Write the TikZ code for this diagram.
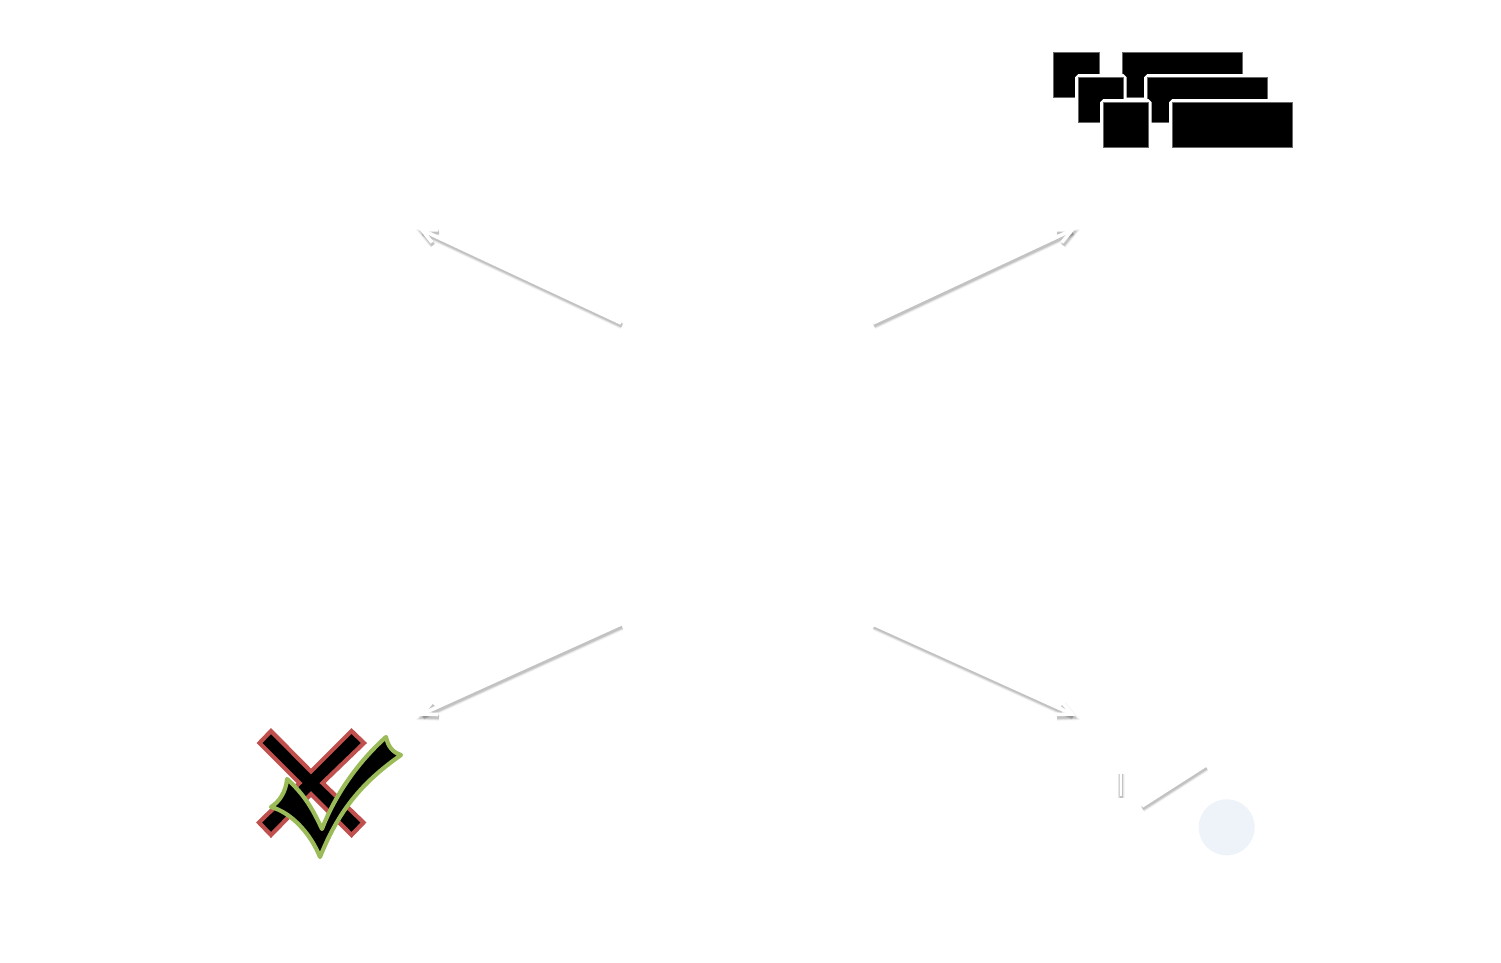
\documentclass[tikz,border=0pt]{standalone}
\usetikzlibrary{calc}
\definecolor{crossred}{HTML}{C0504D}
\definecolor{checkgreen}{HTML}{9BBB59}
\definecolor{paleblue}{HTML}{EEF3FA}
\definecolor{edgegray}{HTML}{666666}
\tikzset{
  block/.style={fill=black,draw=edgegray,line width=0.3pt},
  blockhalo/.style={draw=white,line width=6pt,rounded corners=1.5pt},
  softA/.style={draw=black,opacity=0.04,line width=7pt},
  softB/.style={draw=black,opacity=0.06,line width=5.6pt},
  softC/.style={draw=black,opacity=0.08,line width=4.2pt},
  softD/.style={draw=black,opacity=0.08,line width=3pt},
  whiteline/.style={draw=white,line width=3.6pt},
  thinwhite/.style={draw=white,line width=2.8pt},
}
\begin{document}
\begin{tikzpicture}[x=1pt,y=-1pt]
\useasboundingbox (0,0) rectangle (1501,962);
\fill[white] (0,0) rectangle (1501,962);
% connector ends
\coordinate (hubTL) at (621,323);
\coordinate (hubTR) at (873,323);
\coordinate (hubBL) at (621,624);
\coordinate (hubBR) at (873,624);
\coordinate (endTL) at (422,230);
\coordinate (endTR) at (1072,230);
\coordinate (endBL) at (422,714);
\coordinate (endBR) at (1072,714);
\coordinate (barA) at (1121,772);
\coordinate (barB) at (1121,796);
\coordinate (slashA) at (1142,806);
\coordinate (slashB) at (1206,765);
% arrows with soft shadows
\foreach \a/\b in {hubTL/endTL,hubTR/endTR,hubBL/endBL,hubBR/endBR}{
  \foreach \s in {softA,softB,softC,softD}{
    \draw[\s] ($(\a)+(1,2.8)$) -- ($(\b)+(1,2.8)$);
    \draw[\s,line join=miter] ($($(\b)!16pt!26:(\a)$)+(1,2.8)$) -- ($(\b)+(1,2.8)$) -- ($($(\b)!16pt!-26:(\a)$)+(1,2.8)$);
  }
  \draw[whiteline] (\a) -- (\b);
  \draw[whiteline,line join=miter] ($(\b)!16pt!26:(\a)$) -- (\b) -- ($(\b)!16pt!-26:(\a)$);
}
% small strokes, bottom right
\foreach \s in {softA,softB,softC,softD}{
  \draw[\s] ($(barA)+(0,1.5)$) -- ($(barB)+(0,1.5)$);
  \draw[\s] ($(slashA)+(0.5,2.8)$) -- ($(slashB)+(0.5,2.8)$);
}
\draw[thinwhite] (barA) -- (barB);
\draw[whiteline] (slashA) -- (slashB);
\fill[paleblue] (1226.7,827.3) circle (28);
% stacked blocks, top right
\draw[block] (1053.5,52) rectangle (1099.5,97.5);
\draw[block] (1122,52) rectangle (1242.5,97.5);
\draw[blockhalo] (1078,77) rectangle (1123.5,122.5);
\draw[block] (1078,77) rectangle (1123.5,122.5);
\draw[blockhalo] (1147,77) rectangle (1267.5,122.5);
\draw[block] (1147,77) rectangle (1267.5,122.5);
\draw[blockhalo] (1103,102) rectangle (1148.5,147.5);
\draw[block] (1103,102) rectangle (1148.5,147.5);
\draw[blockhalo] (1172,102) rectangle (1292.5,147.5);
\draw[block] (1172,102) rectangle (1292.5,147.5);
% cross
\draw[fill=black,draw=crossred,line width=4.2pt,miter limit=4]
  (271,731) -- (311,771.5) -- (351.5,731) -- (364,743) -- (322.5,783)
  -- (363.5,822.5) -- (351.5,835) -- (311,794) -- (271,835) -- (259,822.5)
  -- (299.5,783) -- (259.5,743) -- cycle;
% check mark
\draw[fill=black,draw=checkgreen,line width=4.2pt,line join=round]
  (320,857)
  .. controls (337,815) and (358,785) .. (401,755)
  .. controls (392,752) and (388,746) .. (386,737)
  .. controls (358,762) and (335,795) .. (322,829)
  .. controls (313,810) and (305,795) .. (287,779)
  .. controls (286,792) and (279,802) .. (271,807)
  .. controls (290,812) and (310,832) .. (320,857)
  -- cycle;
\end{tikzpicture}
\end{document}
